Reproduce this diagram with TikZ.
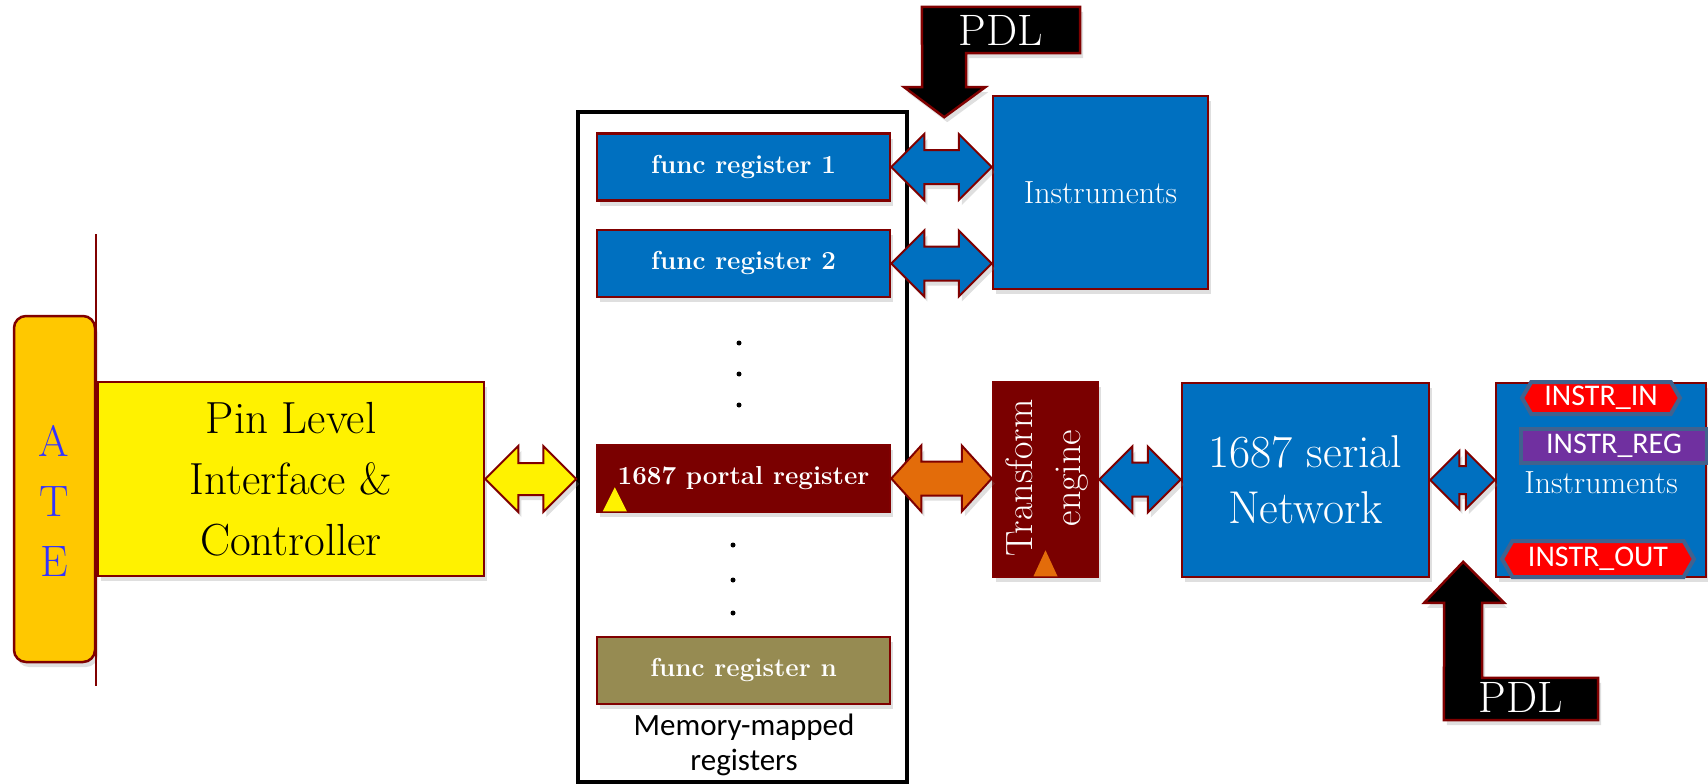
\documentclass[tikz,border=0pt]{standalone}
\usepackage{fontspec}
\newfontfamily\calfont{Carlito}
\usepackage{tikz}
\usetikzlibrary{positioning}
\usetikzlibrary{calc}
\usetikzlibrary{shapes.symbols}
\usetikzlibrary{shadows}

\definecolor{boxblue}{RGB}{0,112,192}
\definecolor{edgered}{RGB}{128,0,0}
\definecolor{portalred}{RGB}{122,0,0}
\definecolor{ateorange}{RGB}{255,200,0}
\definecolor{olivereg}{RGB}{150,139,82}
\definecolor{busorange}{RGB}{227,108,10}
\definecolor{tagblue}{RGB}{65,98,142}
\definecolor{tagpurple}{RGB}{112,48,160}
\definecolor{letterblue}{RGB}{51,51,255}

\tikzset{
  softshadow/.style={drop shadow={opacity=0.25, shadow xshift=3pt, shadow yshift=-5pt}},
  blk/.style={draw=edgered, line width=2.5pt, inner sep=0pt, align=center, softshadow},
  reg/.style={blk, fill=boxblue, text=white, minimum width=293pt, minimum height=67pt,
    font=\fontsize{26}{30}\selectfont\bfseries},
  tag/.style={draw=tagblue, line width=4pt, text=white, inner sep=0pt,
    font=\calfont\fontsize{30}{32}\selectfont},
  fatline/.style={draw=edgered, line width=2pt, line join=miter, softshadow},
  pdlshape/.style={draw=edgered, line width=2.5pt, fill=black, softshadow},
  dotmark/.style={fill=black}
}

% horizontal fat double arrow: colour, from, to, head half, shaft half, head length
\newcommand{\busarrow}[6]{%
  \draw[fatline, fill=#1] let \p1=#2, \p2=#3 in
    (\x1,\y1) -- (\x1+#6,\y1+#4) -- (\x1+#6,\y1+#5) -- (\x2-#6,\y1+#5)
    -- (\x2-#6,\y1+#4) -- (\x2,\y1) -- (\x2-#6,\y1-#4) -- (\x2-#6,\y1-#5)
    -- (\x1+#6,\y1-#5) -- (\x1+#6,\y1-#4) -- cycle;}

\begin{document}
\begin{tikzpicture}[x=1pt, y=-1pt]
    \useasboundingbox (0,0) rectangle (1708,784);

    % tester side
    \node[blk, fill=ateorange, rounded corners=12pt, minimum width=81pt, minimum height=346pt] (ate) at (54.5,489) {};
    \node[text=letterblue, align=center, font=\fontsize{44}{60}\selectfont] (atetext) at (54,501) {A\\T\\E};
    \coordinate (linetop) at (96,234);
    \coordinate (linebot) at (96,686);
    \draw[edgered, line width=2.5pt] (linetop) -- (linebot);
    \node[blk, fill=yellow, minimum width=386pt, minimum height=194pt,
      font=\fontsize{45}{61}\selectfont] (pin) at (291,479) {Pin Level\\Interface \&\\Controller};

    % memory-mapped registers
    \node[draw=black, line width=3.5pt, minimum width=329pt, minimum height=670pt, inner sep=0pt] (mem) at (742.5,447) {};
    \node[reg] (fr1) at (743.5,167) {func register 1};
    \node[reg] (fr2) at (743.5,263.5) {func register 2};
    \node[reg, fill=portalred] (portal) at (743.5,478.5) {1687 portal register};
    \node[reg, fill=olivereg] (frn) at (743.5,670.5) {func register n};
    \foreach \y in {343,374,405} \fill[dotmark] (739,\y) circle (2.5);
    \foreach \y in {545,580,613} \fill[dotmark] (733,\y) circle (2.5);
    \fill[yellow] ([shift={(7,-2)}]portal.south west) -- ++(24,0) -- ++(-12,-24) -- cycle;
    \node[align=center, font=\calfont\fontsize{31}{35}\selectfont] (memlabel) at (744,745) {Memory-mapped\\registers};

    % instruments and network
    \node[blk, fill=boxblue, text=white, minimum width=215pt, minimum height=193pt,
      font=\fontsize{32}{36}\selectfont] (inst) at (1100.5,192.5) {Instruments};
    \node[blk, fill=portalred, minimum width=105pt, minimum height=195pt] (trans) at (1045.5,479.5) {};
    \node[text=white, rotate=90, align=center, font=\fontsize{38}{48}\selectfont] (transtext) at (1047,478) {Transform\\engine};
    \fill[busorange] ([shift={(-12,-2)}]trans.south) -- ++(24,0) -- ++(-12,-26) -- cycle;
    \node[blk, fill=boxblue, text=white, minimum width=247pt, minimum height=194pt,
      font=\fontsize{46}{56}\selectfont] (net) at (1305.5,480) {1687 serial\\Network};
    \node[blk, fill=boxblue, minimum width=210pt, minimum height=194pt] (inst2) at (1601,480) {};
    \node[text=white, font=\fontsize{32}{36}\selectfont] (inst2text) at (1601,483) {Instruments};
    \node[tag, fill=red, signal, signal to=west and east, signal pointer angle=120,
      minimum width=158pt, minimum height=32pt] (tagin) at (1601,398) {INSTR\_IN};
    \node[tag, fill=tagpurple, minimum width=186pt, minimum height=34pt] (tagreg) at (1614,446) {INSTR\_REG};
    \node[tag, fill=red, signal, signal to=west and east, signal pointer angle=120,
      minimum width=192pt, minimum height=36pt] (tagout) at (1598,559) {INSTR\_OUT};

    % buses
    \busarrow{yellow}{(pin.east)}{(mem.west)}{33}{16}{33}
    \busarrow{boxblue}{(fr1.east)}{(inst.west)}{33}{17}{33}
    \busarrow{boxblue}{(fr2.east)}{(inst.west)}{33}{17}{33}
    \busarrow{busorange}{(portal.east)}{(trans.west)}{33}{17}{30}
    \busarrow{boxblue}{(trans.east)}{(net.west)}{33}{17}{33}
    \busarrow{boxblue}{(net.east)}{(inst2.west)}{29}{14}{29}

    % PDL inputs
    \node[text=white, font=\fontsize{44}{50}\selectfont, minimum width=158pt, minimum height=46pt, inner sep=0pt] (pdltop) at (1001,30) {};
    \draw[pdlshape] (pdltop.north west) -- (pdltop.north east) -- (pdltop.south east)
      -- ++(-114,0) -- ++(0,34) -- ++(19,0) -- ++(-41,30) -- ++(-40,-30) -- ++(18,0) -- cycle;
    \node[text=white, font=\fontsize{44}{50}\selectfont] at (pdltop) {PDL};
    \node[minimum width=154pt, minimum height=42pt, inner sep=0pt] (pdlbot) at (1521,699) {};
    \draw[pdlshape] (pdlbot.south west) -- (pdlbot.south east) -- (pdlbot.north east)
      -- ++(-116,0) -- ++(0,-75) -- ++(22,0) -- ++(-41,-41) -- ++(-39,41) -- ++(20,0) -- cycle;
    \node[text=white, font=\fontsize{44}{50}\selectfont] at ([yshift=2pt]pdlbot) {PDL};

\end{tikzpicture}
\end{document}
